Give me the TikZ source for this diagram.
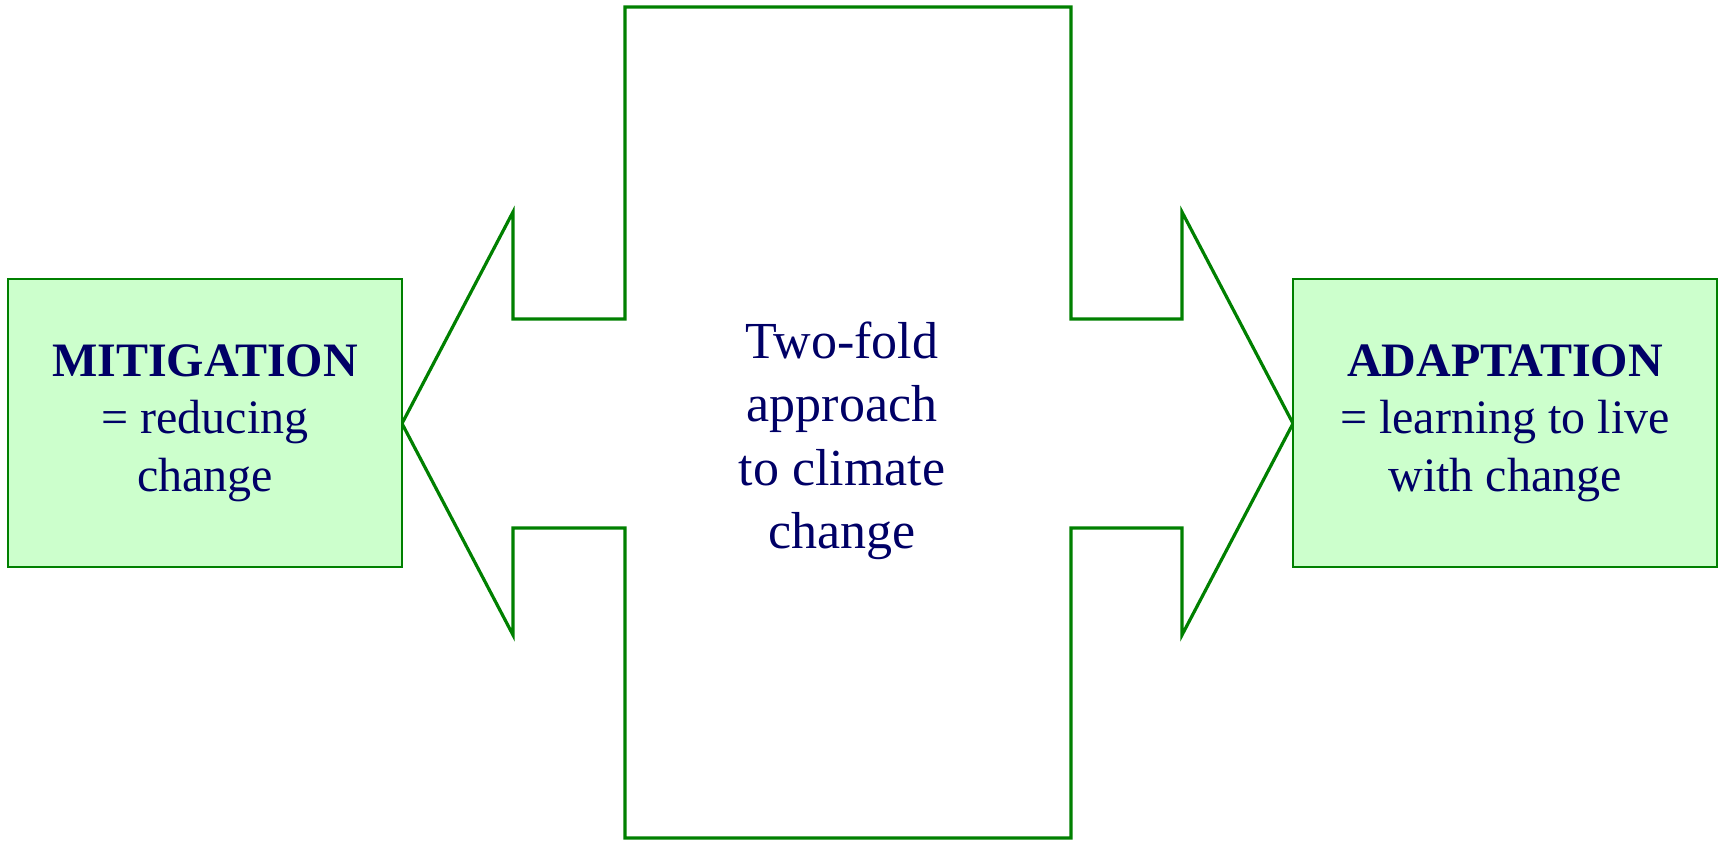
\documentclass[tikz,border=0pt]{standalone}
\usepackage{fontspec}
\setmainfont{Liberation Serif}
\definecolor{arrowgreen}{HTML}{008000}
\definecolor{boxfill}{HTML}{CCFFCC}
\definecolor{navytext}{HTML}{000066}
\tikzset{
  sidebox/.style={draw=arrowgreen, line width=1.5pt, fill=boxfill, inner sep=0pt,
    minimum width=394pt, minimum height=288pt},
  boxtext/.style={text=navytext, align=center, inner sep=0pt,
    font=\fontsize{48}{57.6}\selectfont},
  centertext/.style={text=navytext, align=center, inner sep=0pt,
    font=\fontsize{52}{63.5}\selectfont},
  outline/.style={draw=arrowgreen, line width=3.2pt, line join=miter}
}
\begin{document}
\begin{tikzpicture}[x=1pt,y=-1pt]
\useasboundingbox (0,0) rectangle (1723,841);
% double arrow shape
\draw[outline] (625,7) -- (1071,7) -- (1071,319) -- (1182,319) -- (1182,212)
  -- (1293,423.5) -- (1182,635) -- (1182,528) -- (1071,528) -- (1071,838)
  -- (625,838) -- (625,528) -- (513,528) -- (513,635) -- (402,423.5)
  -- (513,212) -- (513,319) -- (625,319) -- cycle;
% side boxes
\node[sidebox] (mitbox) at (205,423) {};
\node[sidebox, minimum width=424pt] (adabox) at (1505,423) {};
\node[boxtext] (mit) at (205,423) {\textbf{MITIGATION}\\= reducing\\change};
\node[boxtext] (ada) at (1505,423) {\textbf{ADAPTATION}\\= learning to live\\with change};
\node[centertext] (center) at (842,441) {Two-fold\\approach\\to climate\\change};
\end{tikzpicture}
\end{document}
